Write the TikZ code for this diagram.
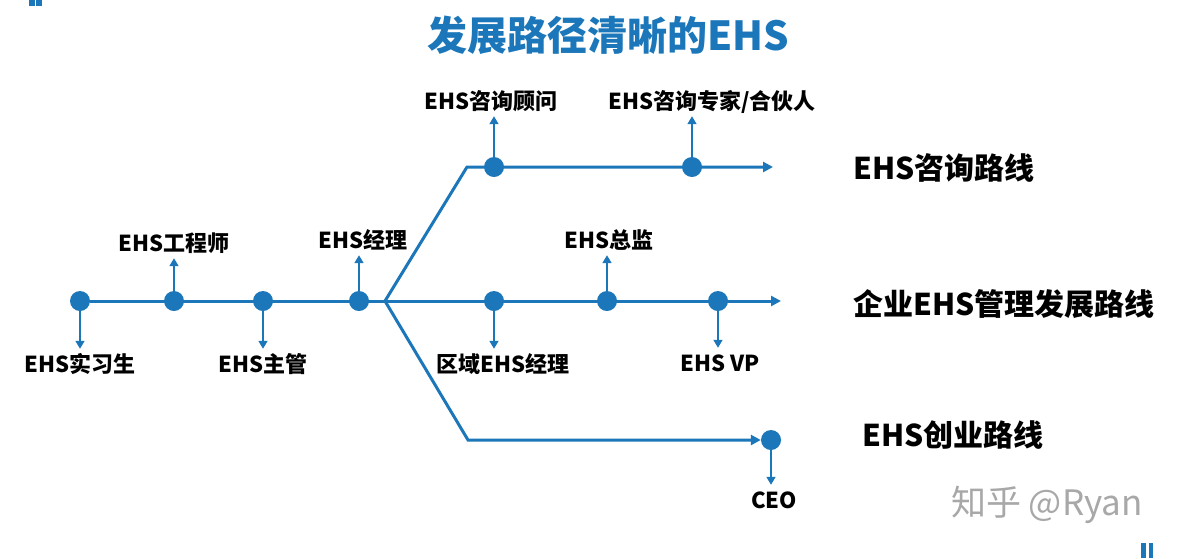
\documentclass[tikz,border=0pt]{standalone}
\usepackage{fontspec}
\setmainfont{Noto Sans CJK SC}
\usepackage{xcolor}
\usetikzlibrary{positioning}
\usetikzlibrary{calc}
\usetikzlibrary{arrows.meta}
\usetikzlibrary{math}

\definecolor{ehsblue}{RGB}{27,119,185}
\definecolor{markgray}{RGB}{168,168,168}

\tikzset{
  pathline/.style={draw=ehsblue, line width=3pt},
  stage/.style={circle, fill=ehsblue, inner sep=0pt, minimum size=20pt},
  tick/.style={draw=ehsblue, line width=1.6pt, shorten >=5pt,
    -{Triangle[width=9pt,length=8pt]}},
  lbl/.style={font=\bfseries\fontsize{22}{24}\selectfont, inner sep=0pt,
    text height=18pt, text depth=2pt},
  route/.style={font=\bfseries\fontsize{30}{32}\selectfont, inner sep=0pt,
    text height=25pt, text depth=3pt, anchor=west},
}

\begin{document}
\begin{tikzpicture}[x=1pt,y=-1pt]

  \useasboundingbox (0,0) rectangle (1177,558);

  \tikzmath{
    \main = 301; % main line
    \up   = 167; % consulting line
    \low  = 440; % start-up line
  }

  % corner marks
  \fill[ehsblue] (29,0) rectangle (35,6);
  \fill[ehsblue] (36,0) rectangle (42,6);
  \fill[ehsblue] (1141,543) rectangle (1146,558);
  \fill[ehsblue] (1149,543) rectangle (1153,558);

  % title
  \node[font=\bfseries\fontsize{40}{44}\selectfont, text=ehsblue] (title)
    at (608,35) {发展路径清晰的EHS};

  % stages
  \node[stage] (intern)   at (80,\main)  {};
  \node[stage] (engineer) at (174,\main) {};
  \node[stage] (super)    at (263,\main) {};
  \node[stage] (manager)  at (359,\main) {};
  \node[stage] (regional) at (494,\main) {};
  \node[stage] (director) at (607,\main) {};
  \node[stage] (vp)       at (718,\main) {};
  \node[stage] (consult)  at (494,\up)   {};
  \node[stage] (partner)  at (692,\up)   {};
  \node[stage] (ceo)      at (771,\low)  {};

  \coordinate (fork)    at (385,\main);
  \coordinate (mainend) at (781,\main);
  \coordinate (upbend)  at (467,\up);
  \coordinate (upend)   at (773,\up);
  \coordinate (lowbend) at (468,\low);

  % the three routes
  \draw[pathline, -{Triangle[width=10pt,length=10pt]}] (intern) -- (mainend);
  \draw[pathline, -{Triangle[width=10pt,length=10pt]}]
    (fork) -- (upbend) -- (upend);
  \draw[pathline, -{Triangle[width=10pt,length=10pt]}]
    (fork) -- (lowbend) -- (ceo);

  % stage labels
  \node[lbl] (lintern)   at (80,364)  {EHS实习生};
  \node[lbl] (lengineer) at (174,243) {EHS工程师};
  \node[lbl] (lsuper)    at (263,364) {EHS主管};
  \node[lbl] (lmanager)  at (363,240) {EHS经理};
  \node[lbl] (lregional) at (503,364) {区域EHS经理};
  \node[lbl] (ldirector) at (609,240) {EHS总监};
  \node[lbl] (lvp)       at (720,363) {EHS VP};
  \node[lbl] (lconsult)  at (491,101) {EHS咨询顾问};
  \node[lbl] (lpartner)  at (712,101) {EHS咨询专家/合伙人};
  \node[lbl] (lceo)      at (774,500) {CEO};

  % arrows from stages to labels
  \draw[tick] (intern)   -- (intern |- lintern.north);
  \draw[tick] (engineer) -- (engineer |- lengineer.south);
  \draw[tick] (super)    -- (super |- lsuper.north);
  \draw[tick] (manager)  -- (manager |- lmanager.south);
  \draw[tick] (regional) -- (regional |- lregional.north);
  \draw[tick] (director) -- (director |- ldirector.south);
  \draw[tick] (vp)       -- (vp |- lvp.north);
  \draw[tick] (consult)  -- (consult |- lconsult.south);
  \draw[tick] (partner)  -- (partner |- lpartner.south);
  \draw[tick] (ceo)      -- (ceo |- lceo.north);

  % route names
  \node[route] (rconsult) at (853,168) {EHS咨询路线};
  \node[route] (rcorp)    at (853,304) {企业EHS管理发展路线};
  \node[route] (rstart)   at (862,435) {EHS创业路线};

  % watermark
  \node[font=\fontsize{35}{38}\selectfont, text=markgray] (mark)
    at (1047,505) {知乎 @Ryan};

\end{tikzpicture}
\end{document}
